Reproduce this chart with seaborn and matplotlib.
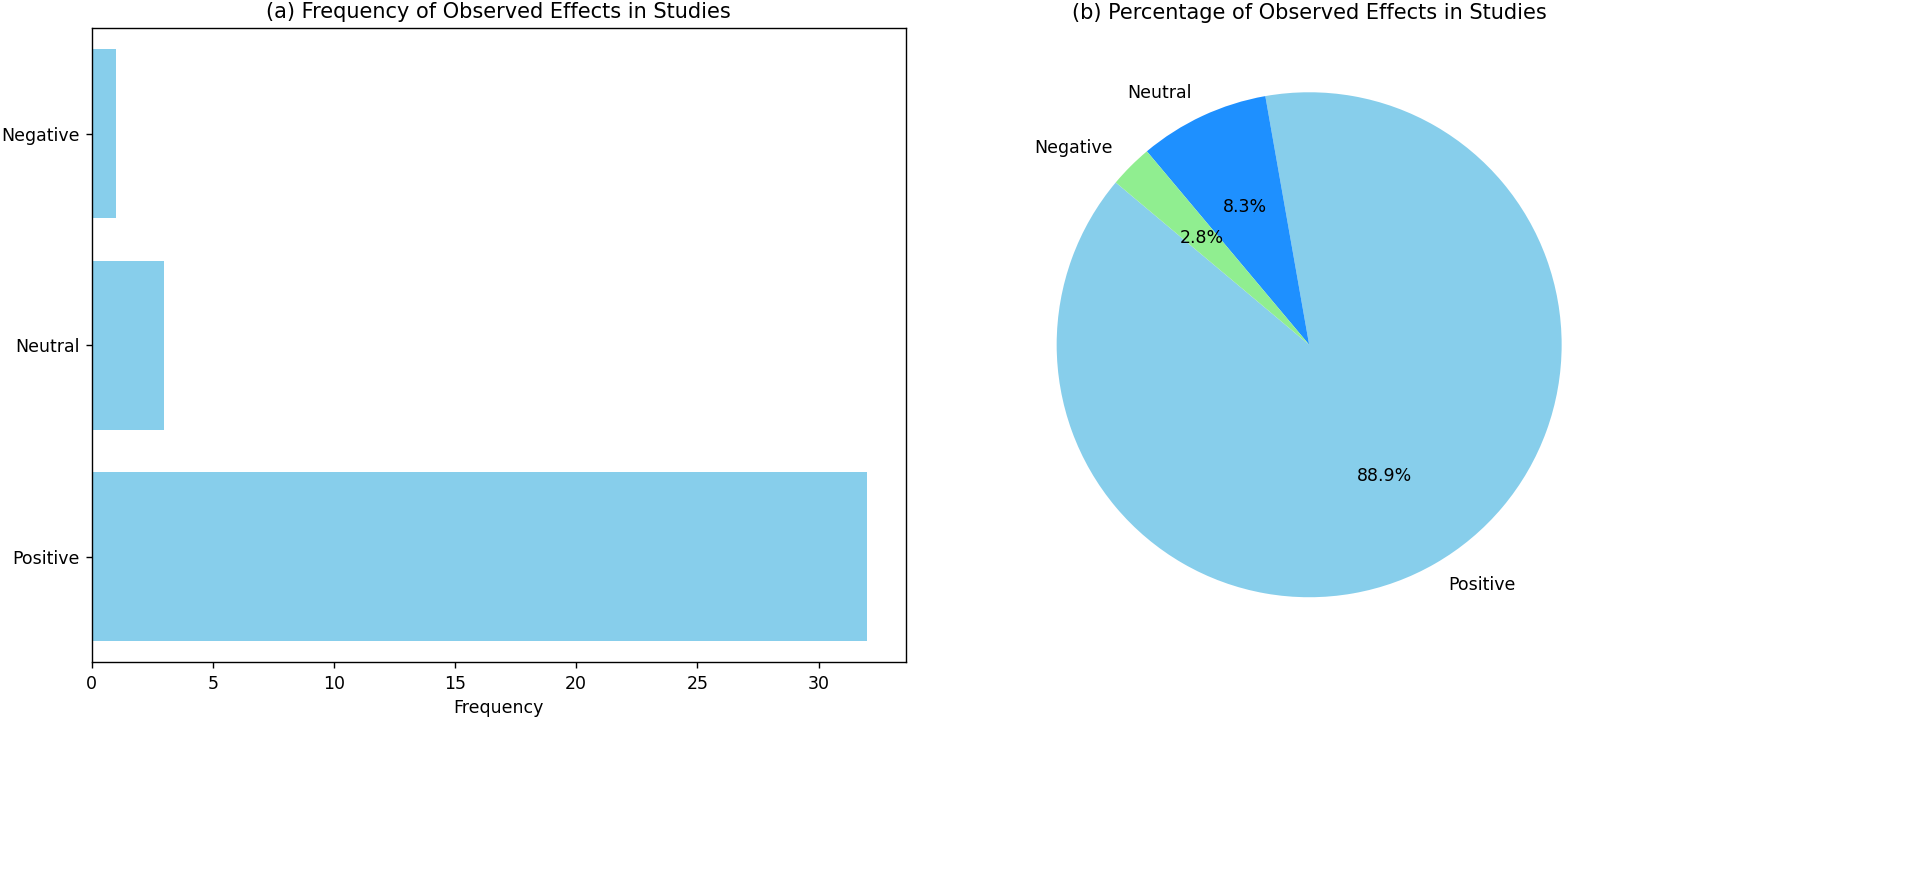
import pandas as pd
import matplotlib.pyplot as plt
import seaborn as sns

# data
effects = ['Positive', 'Neutral', 'Negative']
counts = [32, 3, 1]
pie_colors = ['skyblue', 'dodgerblue', 'lightgreen']
bar_order = ['Negative', 'Neutral', 'Positive']

df = pd.DataFrame({'effect': effects, 'count': counts})

# plain matplotlib look: black text, no wedge edges
plt.rcParams['font.family'] = ['DejaVu Sans']

DPI = 125
fig = plt.figure(figsize=(1907 / DPI, 875 / DPI), dpi=DPI)
ax1 = fig.add_axes([0.048, 0.243, 0.427, 0.725])
ax2 = fig.add_axes([0.521, 0.245, 0.331, 0.722])

# (a) horizontal bars
sns.barplot(data=df, x='count', y='effect', order=bar_order, color='skyblue',
            saturation=1, width=0.8, ax=ax1)
ax1.set_title('(a) Frequency of Observed Effects in Studies')
ax1.set_xlabel('Frequency')
ax1.set_ylabel('')

# (b) pie
ax2.pie(counts, labels=effects, colors=pie_colors, autopct='%1.1f%%', startangle=140)
ax2.set_title('(b) Percentage of Observed Effects in Studies')
ax2.set_aspect('equal')

fig.savefig('out.png', dpi=DPI)
